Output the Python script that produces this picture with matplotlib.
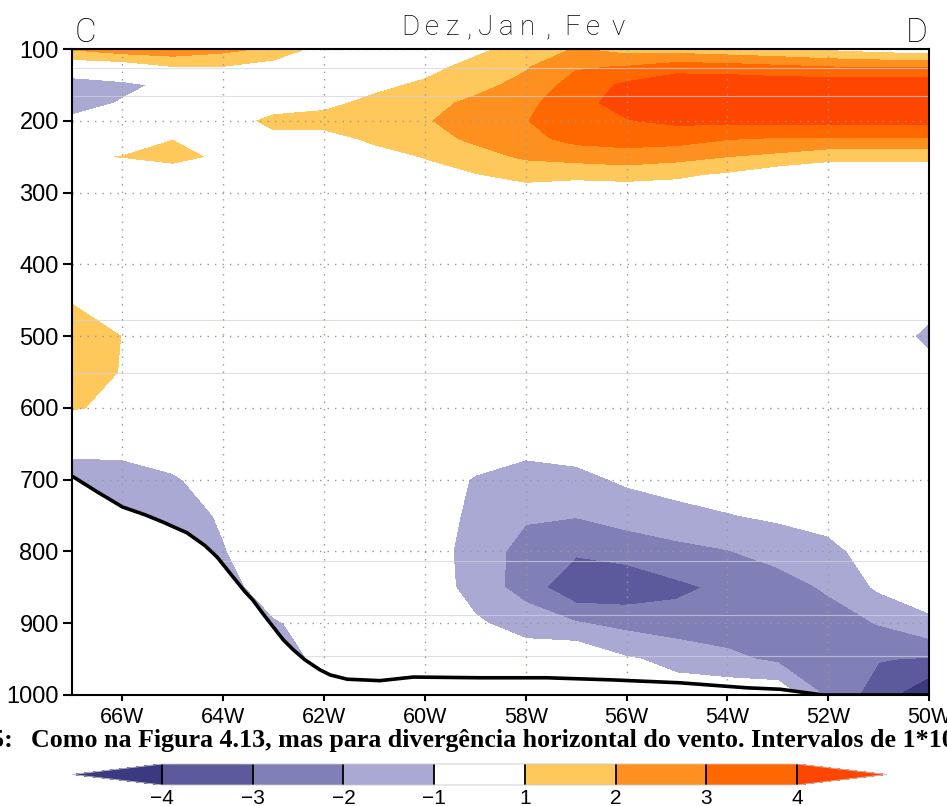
import numpy as np
import matplotlib
matplotlib.use("Agg")
import matplotlib.pyplot as plt
from matplotlib.colors import ListedColormap, BoundaryNorm

# ---------------- data ----------------
lon = [-67, -66, -65, -64, -63, -62, -61, -60, -59, -58, -57, -56, -55, -54, -53, -52, -51, -50]
lev = [100, 125, 150, 175, 200, 225, 250, 275, 300, 350, 400, 450, 500,
       550, 600, 650, 700, 750, 800, 850, 900, 950, 1000]

# horizontal wind divergence (x1e-6 s-1), one row per pressure level
div = [
    [2.1, 2.6, 2.7, 2.3, 1.8, 0.5, 0.3, 0.4, 0.7, 1.5, 2.05, 1.6, 1.5, 1.3, 1.1, 0.8, 0.5, 0.3],     # 100
    [0.2, 0.3, 0.95, 0.95, 0.5, 0.2, 0.4, 0.6, 1.4, 1.9, 2.9, 3.05, 3.5, 3.4, 3.2, 3.0, 2.95, 2.9],  # 125
    [-1.8, -1.3, -0.7, 0.0, 0.2, 0.3, 0.7, 1.2, 1.7, 2.3, 3.4, 4.2, 4.8, 4.8, 4.7, 4.7, 4.75, 4.8],  # 150
    [-1.6, -0.9, -0.5, 0.2, 0.6, 0.7, 1.3, 1.7, 2.2, 2.7, 3.75, 4.3, 4.9, 5.0, 5.1, 5.1, 5.05, 5.0],  # 175
    [-0.72, -0.3, 0.2, 0.6, 1.2, 1.4, 1.6, 1.9, 2.5, 2.95, 3.7, 3.95, 4.2, 4.25, 4.3, 4.3, 4.3, 4.3],  # 200
    [0.2, 0.5, 0.97, 0.7, 0.8, 0.6, 1.2, 1.6, 2.2, 2.7, 3.3, 3.4, 3.4, 3.05, 2.9, 2.9, 2.9, 2.9],  # 225
    [0.9, 1.02, 1.3, 0.8, 0.5, 0.3, 0.6, 1.05, 1.6, 2.15, 2.4, 2.6, 2.35, 2.0, 1.75, 1.3, 1.3, 1.3],  # 250
    [0.4, 0.5, 0.47, 0.4, 0.3, 0.2, 0.3, 0.6, 0.95, 1.3, 1.2, 1.3, 1.15, 0.85, 0.3, 0.2, 0.2, 0.2],  # 275
    [0.2, 0.2, 0.2, 0.2, 0.1, 0.1, 0.1, 0.2, 0.4, 0.6, 0.5, 0.5, 0.5, 0.3, 0.2, 0.1, 0.1, 0.1],  # 300
    [0.2, 0.2, 0.2, 0.1, 0.1, 0.1, 0.1, 0.1, 0.2, 0.3, 0.3, 0.2, 0.2, 0.1, 0.1, 0.0, 0.0, 0.0],  # 350
    [0.3, 0.2, 0.2, 0.1, 0.1, 0.0, 0.0, 0.0, 0.1, 0.1, 0.1, 0.1, 0.0, 0.0, 0.0, 0.0, 0.0, -0.1],  # 400
    [0.9, 0.6, 0.3, 0.2, 0.1, 0.0, 0.0, 0.0, 0.0, 0.0, 0.0, 0.0, 0.0, 0.0, 0.0, -0.1, -0.1, -0.3],  # 450
    [1.8, 0.97, 0.4, 0.2, 0.1, 0.0, 0.0, 0.0, 0.0, 0.0, 0.0, 0.0, 0.0, 0.0, 0.0, -0.1, 0.0, -1.4],  # 500
    [1.75, 0.92, 0.4, 0.2, 0.1, 0.0, 0.0, 0.0, 0.0, 0.0, 0.0, 0.0, 0.0, 0.0, 0.0, -0.1, -0.1, -0.4],  # 550
    [1.1, 0.72, 0.3, 0.1, 0.0, 0.0, 0.0, 0.0, 0.0, 0.0, 0.0, 0.0, -0.1, -0.1, -0.1, -0.1, -0.1, -0.2],  # 600
    [-0.67, -0.6, -0.3, -0.1, 0.0, 0.0, 0.0, 0.0, -0.3, -0.6, -0.5, -0.3, -0.2, -0.2, -0.1, -0.1, -0.1, -0.1],  # 650
    [-1.5, -1.5, -1.15, -0.4, -0.2, -0.2, -0.2, -0.3, -1.1, -1.5, -1.3, -0.85, -0.6, -0.5, -0.4, -0.3, -0.2, -0.2],  # 700
    [-1.5, -1.5, -1.4, -0.9, -0.3, -0.3, -0.3, -0.3, -1.3, -1.9, -1.95, -1.6, -1.3, -1.05, -0.85, -0.6, -0.3, -0.3],  # 750
    [-1.5, -1.5, -1.5, -1.05, -0.45, -0.3, -0.3, -0.3, -1.55, -2.3, -2.85, -2.6, -2.3, -2.05, -1.6, -1.3, -0.5, -0.4],  # 800
    [-1.5, -1.5, -1.5, -1.4, -0.5, -0.3, -0.3, -0.3, -1.45, -2.4, -3.85, -3.7, -3.2, -2.8, -2.5, -1.85, -0.85, -0.5],  # 850
    [-1.5, -1.5, -1.5, -1.4, -1.1, -0.6, -0.4, -0.4, -0.85, -1.45, -1.92, -2.3, -2.6, -2.6, -2.6, -2.5, -1.95, -1.2],  # 900
    [-1.5, -1.5, -1.5, -1.4, -1.3, -0.85, -0.5, -0.3, -0.5, -0.4, -0.1, -0.9, -1.25, -1.75, -2.2, -2.7, -2.95, -3.1],  # 950
    [-1.5, -1.5, -1.5, -1.4, -1.3, -0.9, -0.5, -0.3, -0.4, -0.5, -0.4, -0.5, -0.6, -0.3, -0.2, -2.2, -3.5, -4.9],  # 1000
]

# surface (topography) pressure along the section
topo_lon = [-67, -66.5, -66.0, -65.55, -65.2, -64.72, -64.36, -64.12, -63.8, -63.57, -63.41,
            -63.21, -63.01, -62.81, -62.61, -62.38, -62.08, -61.88, -61.54, -60.89, -60.23,
            -58.9, -57.58, -56.27, -54.94, -53.61, -52.95, -52.1, -50]
topo_p = [695, 717, 738, 749, 759, 774, 792, 808, 836, 856, 868,
          887, 905, 923, 937, 951, 965, 972, 978, 980, 975,
          976, 976, 979, 983, 990, 992, 1000, 1000]

levels = [-4, -3, -2, -1, 1, 2, 3, 4]
level_labels = ["\u22124", "\u22123", "\u22122", "\u22121", "1", "2", "3", "4"]
xticks = [-66, -64, -62, -60, -58, -56, -54, -52, -50]
xlabels = ["66W", "64W", "62W", "60W", "58W", "56W", "54W", "52W", "50W"]
yticks = [100, 200, 300, 400, 500, 600, 700, 800, 900, 1000]
seam_levels = [126, 165, 477, 551, 814, 888, 945]

title_chars = list("Dez,Jan,Fev")
title_x = [410, 432, 452, 469, 485, 506, 527, 548, 572, 593, 618]

# ---------------- style ----------------
inner_colors = ["#5c5a9c", "#8180b6", "#aaa9d3", "#ffffff", "#ffc85a", "#fe901f", "#ff6800"]
cmap = ListedColormap(inner_colors)
cmap.set_under("#3b3a80")
cmap.set_over("#ff4600")
norm = BoundaryNorm(levels, cmap.N)

W, H = 947, 806
fig = plt.figure(figsize=(W / 100, H / 100), dpi=100)
ax = fig.add_axes([72 / W, 1 - 695 / H, (929 - 72) / W, (695 - 49) / H])

Z = np.array(div)
cs = ax.contourf(lon, lev, Z, levels=levels, cmap=cmap, norm=norm, extend="both", zorder=1)

ax.set_xlim(-67, -50)
ax.set_ylim(1000, 100)
ax.set_xticks(xticks)
ax.set_xticklabels(xlabels, fontsize=15.5, family="Liberation Sans")
ax.set_yticks(yticks)
ax.set_yticklabels([str(v) for v in yticks], fontsize=17, family="Liberation Sans")
ax.set_axisbelow(False)
ax.grid(True, color="#999999", linestyle=(0, (1, 4.4)), linewidth=1.0)
ax.tick_params(axis="x", direction="out", length=4.5, width=1.5, pad=4)
ax.tick_params(axis="y", direction="out", length=6.5, width=1.5, pad=3)
for s in ax.spines.values():
    s.set_linewidth(1.5)
    s.set_zorder(6)

for p in seam_levels:
    ax.axhline(p, color="#d0d0e6", lw=0.8, alpha=0.7, zorder=1.5)

ax.fill_between(topo_lon, topo_p, 1000, color="white", zorder=3, lw=0)
ax.plot(topo_lon, topo_p, color="black", lw=2.6, zorder=4, solid_joinstyle="round")

# headers
fig.text(75 / W, 1 - 42 / H, "C", fontsize=24, family="Roboto", fontweight="light",
         ha="left", va="baseline")
fig.text(928 / W, 1 - 42 / H, "D", fontsize=24, family="Roboto", fontweight="light",
         ha="right", va="baseline")
for ch, x in zip(title_chars, title_x):
    fig.text(x / W, 1 - 35 / H, ch, fontsize=20, family="Roboto", fontweight="light",
             ha="center", va="baseline")

# caption (cut by the figure edges as in the source)
fig.text(13 / W, 1 - 747 / H, "Figura 4.15:", fontsize=18.7, family="Liberation Serif",
         fontweight="bold", ha="right", va="baseline")
fig.text(31 / W, 1 - 747 / H,
         "Como na Figura 4.13, mas para diverg\u00eancia horizontal do vento. Intervalos de 1*10",
         fontsize=18.7, family="Liberation Serif", fontweight="bold", ha="left", va="baseline")

# colorbar
cax = fig.add_axes([72 / W, 1 - 785 / H, (887 - 72) / W, 21 / H])
cbar = fig.colorbar(cs, cax=cax, orientation="horizontal", extendfrac=0.142,
                    drawedges=True, ticks=levels)
cbar.ax.set_xticklabels(level_labels, family="Liberation Sans", fontsize=15)
cbar.ax.tick_params(length=0, pad=3)
cbar.dividers.set_color("black")
cbar.dividers.set_linewidth(1.3)
cbar.outline.set_edgecolor("#c8c8c8")
cbar.outline.set_linewidth(0.6)

fig.savefig("out.png", dpi=100)
